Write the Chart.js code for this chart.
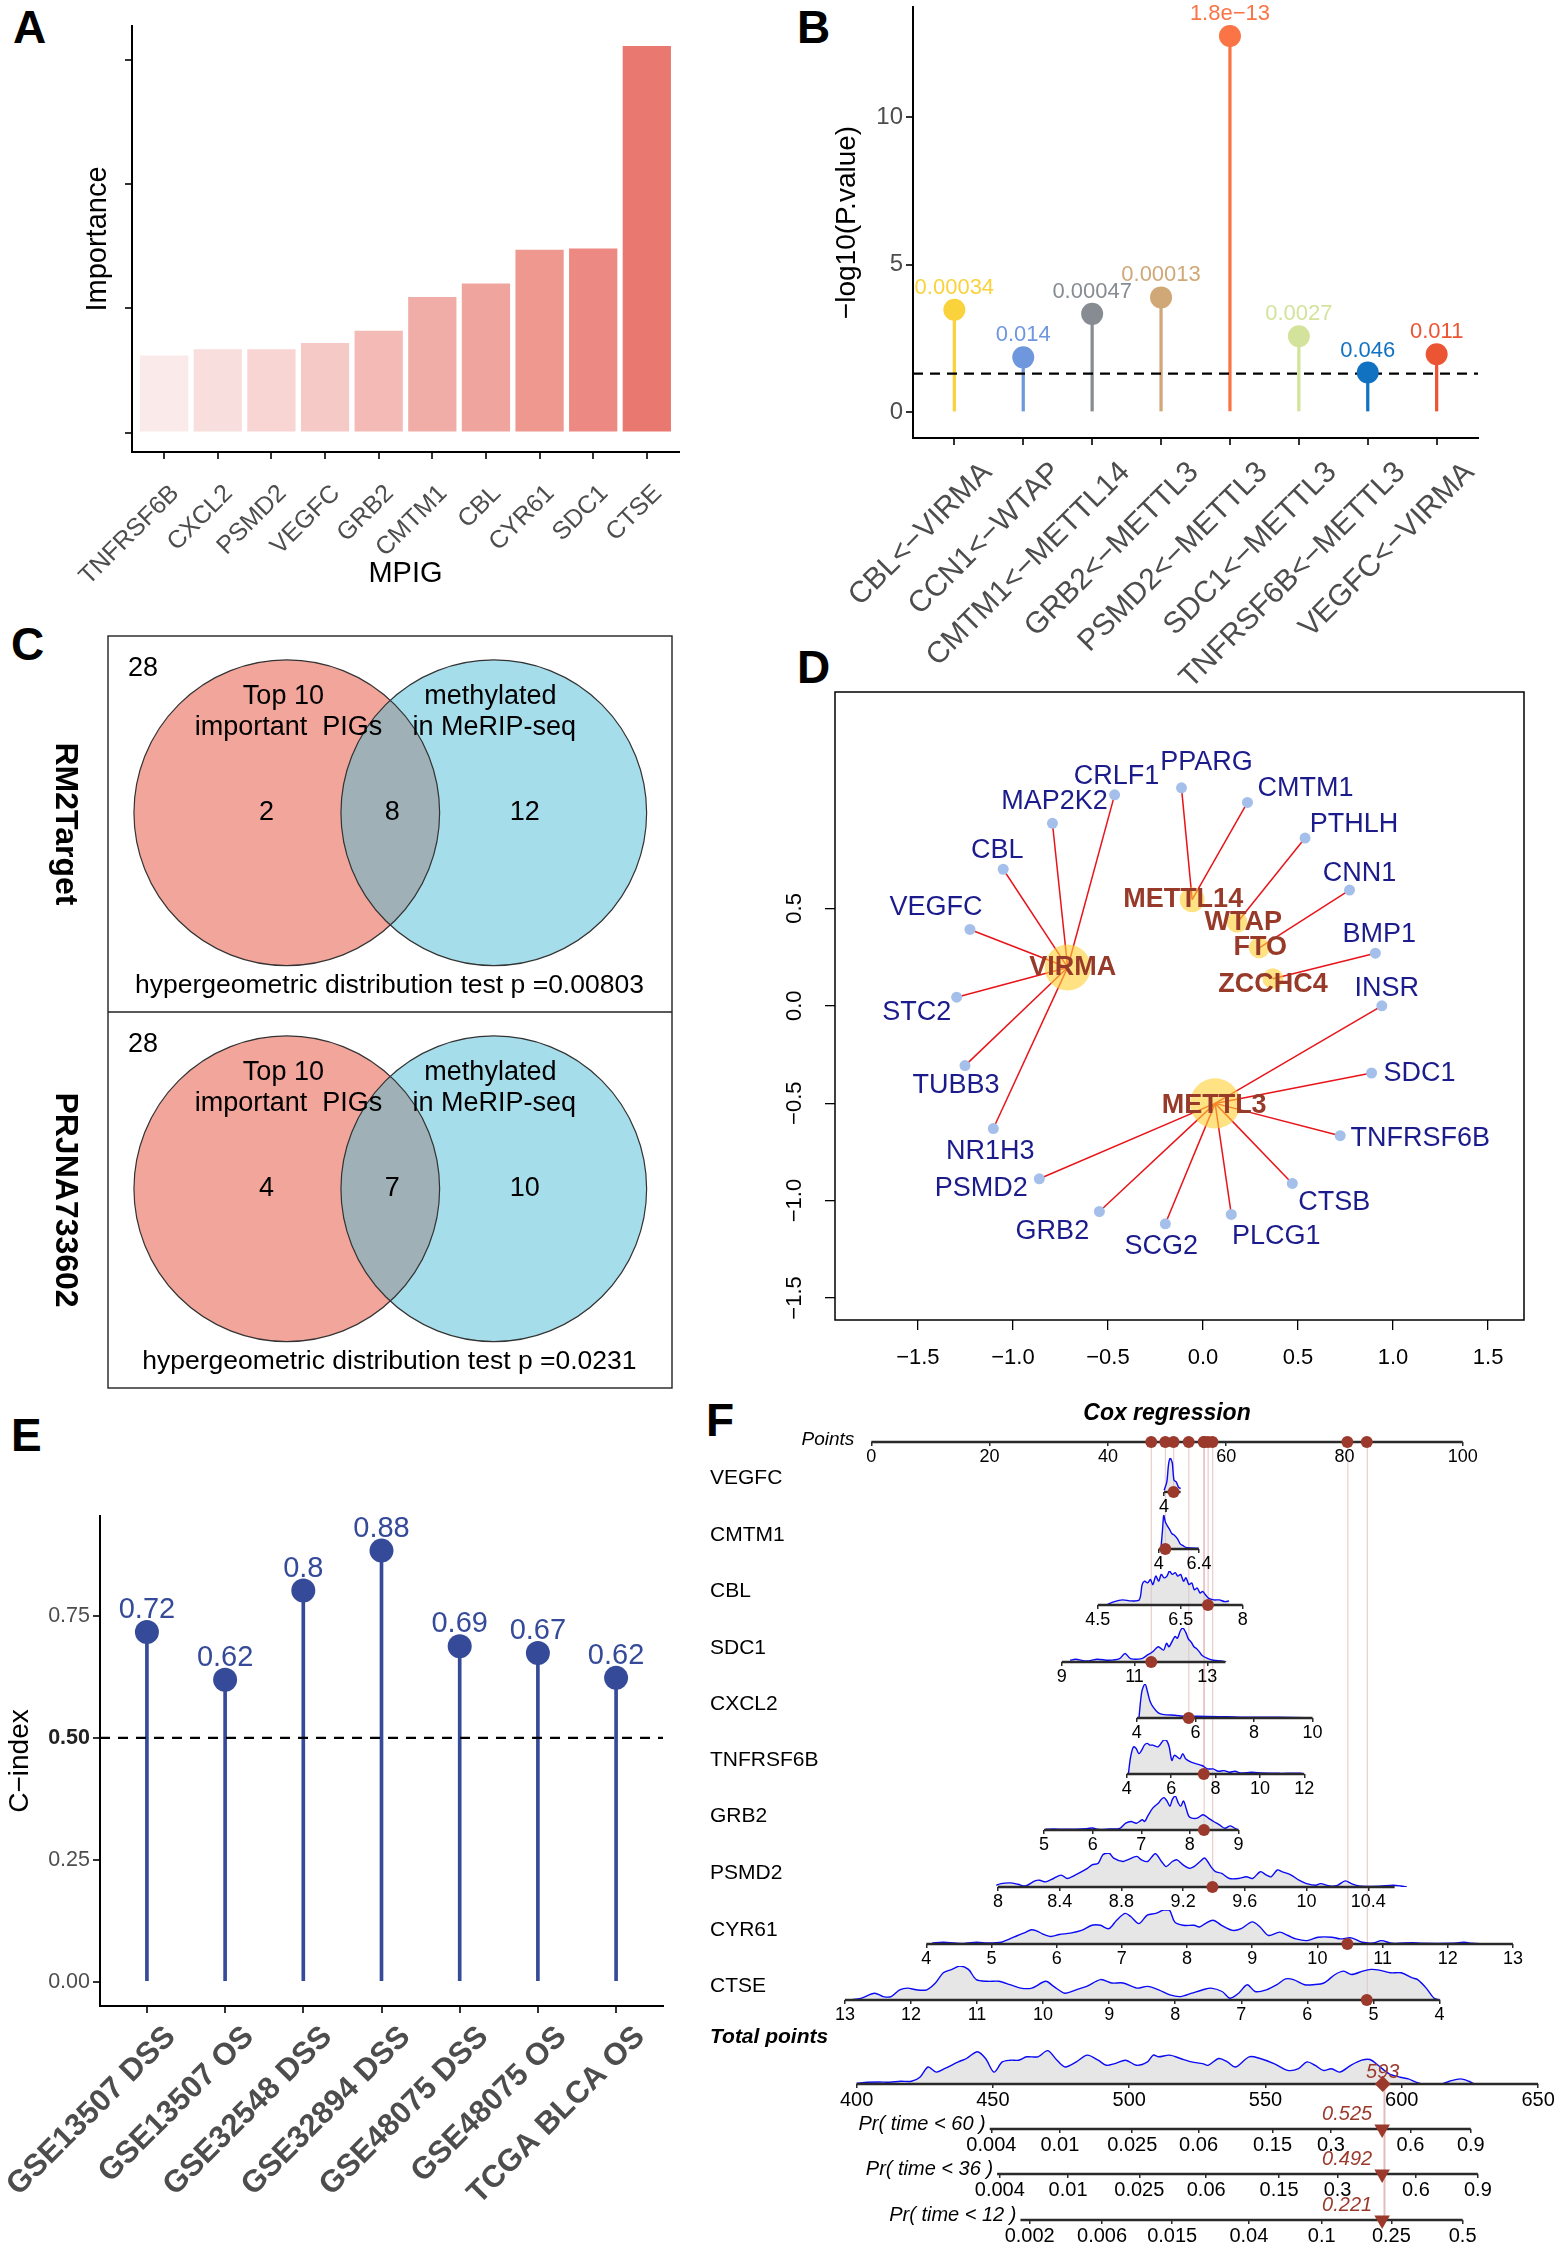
<!DOCTYPE html>
<html>
<head>
<meta charset="utf-8">
<title>MPIG figure</title>
<script src="https://cdn.jsdelivr.net/npm/chart.js@4.4.1/dist/chart.umd.min.js"></script>
<style>
  html, body { margin: 0; padding: 0; background: #fff; }
  body { position: relative; width: 1564px; height: 2250px; overflow: hidden; font-family: 'Liberation Sans', Arial, sans-serif; }
  canvas { position: absolute; }
  .tag { position: absolute; font-weight: bold; font-size: 46px; line-height: 1; }
  .ftitle { position: absolute; left: 1047px; top: 1401px; width: 240px; text-align: center; font: italic bold 23px 'Liberation Sans', Arial, sans-serif; line-height: 1; }
</style>
</head>
<body>
<div class="tag" style="left:13px;top:4px">A</div>
<div class="tag" style="left:797px;top:4px">B</div>
<div class="tag" style="left:11px;top:621px">C</div>
<div class="tag" style="left:797px;top:644px">D</div>
<div class="tag" style="left:11px;top:1412px">E</div>
<div class="tag" style="left:706px;top:1397px">F</div>
<script>
// ---------- data ----------
// A: importance of the MPIGs
const mpigGenes = ['TNFRSF6B', 'CXCL2', 'PSMD2', 'VEGFC', 'GRB2', 'CMTM1', 'CBL', 'CYR61', 'SDC1', 'CTSE'];
const mpigImportance = [0.62, 0.67, 0.67, 0.72, 0.82, 1.09, 1.20, 1.47, 1.48, 3.11];

// B: target <- regulator correlation p values
const mtPairs = ['CBL<\u2212VIRMA', 'CCN1<\u2212WTAP', 'CMTM1<\u2212METTL14', 'GRB2<\u2212METTL3',
  'PSMD2<\u2212METTL3', 'SDC1<\u2212METTL3', 'TNFRSF6B<\u2212METTL3', 'VEGFC<\u2212VIRMA'];
const mtPValues = [0.00034, 0.014, 0.00047, 0.00013, 1.8e-13, 0.0027, 0.046, 0.011];
const mtPLabels = ['0.00034', '0.014', '0.00047', '0.00013', '1.8e\u221213', '0.0027', '0.046', '0.011'];

// C: venn counts
const vennSources = ['RM2Target', 'PRJNA733602'];
const vennUniverse = [28, 28];
const vennOnlyTop10 = [2, 4];
const vennBoth = [8, 7];
const vennOnlyMethylated = [12, 10];
const vennP = ['0.00803', '0.0231'];

// D: regulator network layout
const hubNames = ['VIRMA', 'METTL3', 'METTL14', 'WTAP', 'FTO', 'ZCCHC4'];
const hubX = [-0.712, 0.064, -0.057, 0.180, 0.296, 0.368];
const hubY = [0.197, -0.501, 0.545, 0.428, 0.297, 0.139];
const geneNames = ['CRLF1', 'PPARG', 'CMTM1', 'MAP2K2', 'PTHLH', 'CBL', 'CNN1', 'VEGFC', 'BMP1', 'STC2',
  'INSR', 'TUBB3', 'SDC1', 'NR1H3', 'TNFRSF6B', 'PSMD2', 'CTSB', 'GRB2', 'SCG2', 'PLCG1'];
const geneX = [-0.465, -0.113, 0.234, -0.792, 0.537, -1.051, 0.771, -1.226, 0.907, -1.296,
  0.941, -1.252, 0.887, -1.103, 0.722, -0.861, 0.470, -0.545, -0.198, 0.149];
const geneY = [1.083, 1.119, 1.044, 0.937, 0.861, 0.701, 0.594, 0.392, 0.270, 0.044,
  0.000, -0.307, -0.345, -0.630, -0.667, -0.888, -0.912, -1.056, -1.119, -1.071];
const geneRegulator = ['VIRMA', 'METTL14', 'METTL14', 'VIRMA', 'WTAP', 'VIRMA', 'FTO', 'VIRMA', 'ZCCHC4', 'VIRMA',
  'METTL3', 'VIRMA', 'METTL3', 'VIRMA', 'METTL3', 'METTL3', 'METTL3', 'METTL3', 'METTL3', 'METTL3'];

// E: C-index per cohort
const cohorts = ['GSE13507 DSS', 'GSE13507 OS', 'GSE32548 DSS', 'GSE32894 DSS', 'GSE48075 DSS', 'GSE48075 OS', 'TCGA BLCA OS'];
const cIndex = [0.717, 0.619, 0.802, 0.884, 0.688, 0.674, 0.623];

// F: nomogram
const nomoVars = ['VEGFC', 'CMTM1', 'CBL', 'SDC1', 'CXCL2', 'TNFRSF6B', 'GRB2', 'PSMD2', 'CYR61', 'CTSE'];
const nomoRef = [4, 4, 4.5, 9, 4, 4, 5, 8, 4, 13];
const nomoRefPoints = [49.5, 48.6, 38.3, 32.2, 44.9, 43.2, 29.2, 21.4, 9.3, -4.47];
const nomoPointsPerUnit = [0.93, 2.83, 7.0, 6.15, 4.95, 3.75, 8.22, 26.1, 11.02, -11.17];
const nomoTicks = [[4], [4, 6.4], [4.5, 6.5, 8], [9, 11, 13], [4, 6, 8, 10], [4, 6, 8, 10, 12],
  [5, 6, 7, 8, 9], [8, 8.4, 8.8, 9.2, 9.6, 10, 10.4], [4, 5, 6, 7, 8, 9, 10, 11, 12, 13], [13, 12, 11, 10, 9, 8, 7, 6, 5, 4]];
const nomoRange = [[4, 7], [4, 6.4], [4.5, 8], [9, 13.5], [4, 10], [4, 12], [5, 9], [8, 10.57], [4, 13], [4, 13]];
const nomoPatient = [5.72, 4.39, 7.16, 11.46, 5.77, 7.47, 8.29, 9.39, 10.46, 5.1];
const pointsTicks = [0, 20, 40, 60, 80, 100];
const totalRef = 400, totalRefPoints = -2.7, totalPointsPerUnit = 0.46304;
const totalTicks = [400, 450, 500, 550, 600, 650];
const totalPatient = 593;
const prNames = ['Pr( time < 60 )', 'Pr( time < 36 )', 'Pr( time < 12 )'];
const prTickTotals = [[449.3, 474.5, 501.1, 525.5, 552.7, 574.2, 603.4, 625.6],
  [452.4, 477.5, 503.7, 528.3, 555.1, 576.6, 605.4, 628.2],
  [463.4, 490.0, 515.8, 544.0, 570.8, 596.4, 622.6]];
const prTickLabels = [['0.004', '0.01', '0.025', '0.06', '0.15', '0.3', '0.6', '0.9'],
  ['0.004', '0.01', '0.025', '0.06', '0.15', '0.3', '0.6', '0.9'],
  ['0.002', '0.006', '0.015', '0.04', '0.1', '0.25', '0.5']];
const prRange = [[448.7, 625.6], [451.4, 628.2], [460.0, 622.6]];
const prPatient = ['0.525', '0.492', '0.221'];

// densities above each nomogram axis (x in the variable's own units, y relative height)
const densVEGFC_x = [4.0, 4.5, 4.8, 5.1, 5.3, 5.5, 5.8, 6.2, 6.6, 7.0];
const densVEGFC_y = [0.05, 0.3, 0.8, 1.0, 0.95, 0.85, 0.35, 0.3, 0.15, 0.1];
const densCMTM1_x = [4.13, 4.23, 4.30, 4.39, 4.49, 4.62, 4.79, 4.95, 5.12, 5.28, 5.45, 5.61, 5.94, 6.37];
const densCMTM1_y = [0, 0.6, 1.0, 0.8, 0.7, 0.6, 0.45, 0.4, 0.3, 0.15, 0.1, 0.05, 0.03, 0.02];
const densCBL_x = [4.70, 4.90, 5.10, 5.30, 5.50, 5.57, 5.63, 5.70, 5.77, 5.83, 5.90, 5.97, 6.03, 6.10, 6.17, 6.23, 6.30,
  6.37, 6.43, 6.50, 6.57, 6.63, 6.70, 6.77, 6.83, 6.90, 6.97, 7.03, 7.10, 7.17, 7.30, 7.43, 7.57, 7.67];
const densCBL_y = [0, .10, .15, .12, .15, .60, .70, .65, .75, .60, .85, .70, .90, .80, .85, 1.0, .90,
  .95, .85, .90, .70, .80, .60, .65, .45, .50, .35, .40, .30, .20, .15, .15, .10, .12];
const densSDC1_x = [9.23, 9.38, 9.68, 9.98, 10.29, 10.59, 10.74, 10.89, 11.20, 11.35, 11.50, 11.65, 11.80, 11.88, 11.95,
  12.11, 12.18, 12.26, 12.33, 12.41, 12.48, 12.56, 12.64, 12.71, 12.79, 12.86, 13.02, 13.17, 13.39, 13.52];
const densSDC1_y = [.05, .08, .03, .08, .05, .10, .25, .10, .10, .20, .30, .45, .35, .55, .45,
  .75, .70, .92, 1.0, .87, .68, .58, .44, .39, .29, .19, .10, .05, .03, 0];
const densCXCL2_x = [4.07, 4.17, 4.28, 4.36, 4.45, 4.54, 4.73, 4.92, 5.29, 5.66, 6.04, 6.79, 7.35, 7.91, 8.84, 9.78, 9.98];
const densCXCL2_y = [0, .78, 1.0, .78, .49, .34, .15, .10, .08, .05, .05, .04, .03, .02, .02, .01, 0];
const densTNFRSF6B_x = [4.07, 4.17, 4.30, 4.42, 4.54, 4.67, 4.79, 4.92, 5.04, 5.16, 5.41, 5.66, 5.78, 5.91, 6.03, 6.15, 6.40,
  6.52, 6.65, 6.90, 7.14, 7.39, 7.64, 7.89, 8.13, 8.38, 8.63, 8.88, 9.12, 9.62, 10.11, 10.86, 11.85, 11.97];
const densTNFRSF6B_y = [0, .5, .8, .75, .6, .7, .85, .9, .85, .85, .8, 1.0, 1.0, .8, .4, .55, .45,
  .6, .45, .35, .3, .25, .15, .15, .08, .1, .05, .08, .03, .05, .03, .02, .02, 0];
const densGRB2_x = [5.03, 5.20, 5.43, 5.88, 6.00, 6.11, 6.34, 6.56, 6.68, 6.79, 6.90, 7.02, 7.07, 7.13, 7.24, 7.36, 7.41, 7.47, 7.53,
  7.59, 7.64, 7.70, 7.76, 7.81, 7.87, 7.93, 7.98, 8.04, 8.15, 8.27, 8.38, 8.49, 8.61, 8.72, 8.83, 8.95, 9.0];
const densGRB2_y = [.02, .03, .02, .04, .06, .02, .03, .05, .2, .25, .2, .3, .25, .4, .65, .8, .9, .95, .85,
  .7, .9, 1.0, .8, .7, .85, .6, .4, .35, .35, .45, .35, .25, .15, .05, .12, .03, 0];
const densPSMD2_x = [7.99, 8.02, 8.08, 8.13, 8.18, 8.24, 8.27, 8.31, 8.36, 8.41, 8.45, 8.50, 8.58, 8.61, 8.65, 8.68, 8.72, 8.75, 8.81, 8.84,
  8.90, 8.93, 8.97, 9.02, 9.06, 9.09, 9.13, 9.16, 9.20, 9.24, 9.27, 9.31, 9.34, 9.38, 9.41, 9.45, 9.50, 9.56, 9.61, 9.65,
  9.70, 9.74, 9.77, 9.81, 9.84, 9.90, 9.95, 10.00, 10.06, 10.09, 10.15, 10.20, 10.25, 10.29, 10.34, 10.47, 10.56, 10.61, 10.65];
const densPSMD2_y = [.05, .1, .12, .08, .03, .18, .2, .15, .25, .35, .25, .35, .55, .65, .7, .95, 1.0, .85, .75, .8,
  .9, .8, .75, .98, .75, .6, .75, .8, .65, .55, .6, .75, .85, .6, .45, .4, .25, .25, .3, .25,
  .45, .35, .3, .5, .45, .35, .2, .1, .05, .1, .03, .05, .18, .1, .03, .02, .05, .03, 0];
const densCYR61_x = [4.09, 4.26, 4.43, 4.60, 4.77, 4.94, 5.15, 5.28, 5.40, 5.53, 5.61, 5.70, 5.78, 5.91, 6.04, 6.21, 6.38, 6.54, 6.67, 6.80,
  6.92, 7.05, 7.14, 7.26, 7.39, 7.52, 7.64, 7.73, 7.81, 7.94, 8.11, 8.19, 8.28, 8.40, 8.53, 8.70, 8.83, 9.00, 9.12, 9.25,
  9.42, 9.55, 9.67, 9.84, 10.01, 10.22, 10.35, 10.52, 10.69, 10.86, 10.98, 11.15, 11.45, 11.62, 12.04, 12.25, 12.38, 12.55];
const densCYR61_y = [.03, .05, .03, .02, .05, .03, .05, .15, .25, .35, .42, .38, .3, .22, .28, .32, .4, .55, .55, .45,
  .7, .9, .8, .6, .85, .9, 1.0, 1.0, .65, .55, .55, .5, .6, .7, .55, .4, .45, .65, .5, .25,
  .35, .25, .15, .1, .2, .2, .15, .18, .05, .03, .1, .02, .04, .02, .02, .05, .02, 0];
const densCTSE_x = [12.92, 12.76, 12.55, 12.42, 12.30, 12.17, 12.05, 11.92, 11.76, 11.63, 11.51, 11.38, 11.26, 11.13, 11.01, 10.84,
  10.67, 10.50, 10.34, 10.17, 9.96, 9.84, 9.67, 9.50, 9.34, 9.13, 8.96, 8.79, 8.58, 8.42, 8.25, 8.08, 7.92, 7.75, 7.58, 7.46,
  7.29, 7.17, 7.04, 6.91, 6.79, 6.62, 6.46, 6.33, 6.21, 6.04, 5.91, 5.75, 5.58, 5.45, 5.33, 5.16, 5.04, 4.91, 4.74, 4.58,
  4.41, 4.33, 4.20, 4.08, 3.99];
const densCTSE_y = [0, .05, .2, .1, .1, .3, .35, .3, .3, .5, .8, .9, 1.0, .9, .6, .55,
  .55, .45, .35, .35, .55, .4, .2, .3, .4, .6, .5, .5, .35, .4, .3, .15, .1, .2, .3, .35,
  .25, .05, .2, .45, .25, .3, .45, .62, .6, .45, .45, .5, .75, .85, .75, .85, .9, .88, .8, .8,
  .65, .6, .35, .05, 0];
const densTotal_x = [400, 404.0, 408.1, 412.1, 416.1, 420.1, 423.2, 426.2, 429.2, 432.2, 437.3, 440.3, 444.3, 447.3, 450.4, 453.4,
  456.4, 459.4, 462.4, 466.5, 470.1, 473.5, 476.5, 480.6, 484.6, 488.6, 491.6, 494.7, 498.7, 502.7, 506.7, 508.8, 510.8,
  514.8, 518.8, 522.9, 526.9, 528.9, 532.9, 536.0, 539.0, 544.0, 548.0, 553.1, 558.1, 562.1, 565.2, 568.2, 571.2, 574.2,
  577.2, 581.3, 585.3, 588.3, 591.3, 595.4, 599.4, 602.4, 605.4, 608.5, 614.5, 617.5, 621.5, 624.6, 626.6];
const densTotal_y = [.02, .05, .06, .05, .08, .08, .2, .5, .35, .45, .65, .75, .95, .75, .35, .65,
  .7, .7, .8, .8, .98, .7, .5, .65, .85, .7, .55, .6, .7, .55, .65, .85, .8,
  .85, .75, .65, .6, .55, .75, .65, .5, .8, .75, .6, .4, .45, .65, .55, .4, .45,
  .35, .55, .7, .72, .55, .3, .2, .15, .05, 0, 0, .08, .15, .08, 0];
const nomoDensX = [densVEGFC_x, densCMTM1_x, densCBL_x, densSDC1_x, densCXCL2_x, densTNFRSF6B_x, densGRB2_x, densPSMD2_x, densCYR61_x, densCTSE_x];
const nomoDensY = [densVEGFC_y, densCMTM1_y, densCBL_y, densSDC1_y, densCXCL2_y, densTNFRSF6B_y, densGRB2_y, densPSMD2_y, densCYR61_y, densCTSE_y];

// ---------- shared setup ----------
const FONT = "'Liberation Sans', Arial, Helvetica, sans-serif";
Chart.defaults.font.family = FONT;
Chart.defaults.color = '#000';
Chart.defaults.animation = false;
Chart.defaults.responsive = false;
Chart.defaults.plugins.legend.display = false;
Chart.defaults.plugins.tooltip.enabled = false;

function place(id, left, top, width, height) {
  const c = document.createElement('canvas');
  c.id = id;
  c.width = width;
  c.height = height;
  c.style.left = left + 'px';
  c.style.top = top + 'px';
  c.style.width = width + 'px';
  c.style.height = height + 'px';
  document.body.appendChild(c);
  return c;
}
const fixTicks = vals => s => { s.ticks = vals.map(value => ({value})); };
const ggGrid = () => ({ drawOnChartArea: false, offset: false, tickLength: 7, color: '#333', lineWidth: 2 });
const ggBorder = () => ({ color: '#000', width: 2 });

// text over lollipop heads
const pointLabels = {
  id: 'pointLabels',
  afterDatasetsDraw(chart, args, o) {
    const meta = chart.getDatasetMeta(0);
    const ctx = chart.ctx;
    ctx.save();
    ctx.font = o.font;
    ctx.textAlign = 'center';
    ctx.textBaseline = 'middle';
    meta.data.forEach((el, i) => {
      ctx.fillStyle = Array.isArray(o.color) ? o.color[i] : o.color;
      ctx.fillText(o.labels[i], el.x, el.y - o.offset);
    });
    ctx.restore();
  }
};

// ---------- A ----------
const aColors = ['#FAEBEA', '#F8DFDD', '#F8D5D3', '#F5C9C6', '#F3BAB6', '#F0ACA6', '#EFA49E', '#EE9890', '#EC8982', '#E97871'];
new Chart(place('chartA', 0, 0, 700, 620), {
  type: 'bar',
  data: {
    datasets: [{
      data: mpigGenes.map((g, i) => ({x: i, y: mpigImportance[i]})),
      backgroundColor: aColors, borderWidth: 0, barPercentage: 0.9, categoryPercentage: 1
    }]
  },
  options: {
    layout: { padding: { top: 26, right: 21, left: 0, bottom: 0 } },
    scales: {
      x: {
        type: 'linear', min: -0.6, max: 9.6, offset: false,
        afterBuildTicks: fixTicks(mpigGenes.map((g, i) => i)),
        afterFit: s => { s.height = 168; },
        ticks: { callback: v => mpigGenes[v], minRotation: 45, maxRotation: 45, autoSkip: false,
          font: { size: 25 }, color: '#4D4D4D', padding: 20, labelOffset: 11 },
        grid: ggGrid(), border: ggBorder(),
        title: { display: true, text: 'MPIG', font: { size: 29 }, padding: { top: 0, bottom: 29 } }
      },
      y: {
        min: -0.156, max: 3.27,
        afterBuildTicks: fixTicks([0, 1, 2, 3]),
        afterFit: s => { s.width = 132; },
        ticks: { display: false },
        grid: ggGrid(), border: ggBorder(),
        title: { display: true, text: 'Importance', font: { size: 29 }, padding: { top: 81, bottom: 0 } }
      }
    }
  }
});

// ---------- B ----------
const bColors = ['#F9D23C', '#6F97DE', '#878C92', '#D0A878', '#FA7446', '#D4E39C', '#1272C2', '#EC5534'];
const mtScore = mtPValues.map(p => -Math.log10(p));
const mtPoints = mtPairs.map((n, i) => ({x: i, y: mtScore[i]}));
new Chart(place('chartB', 782, -20, 782, 710), {
  type: 'bar',
  data: {
    datasets: [
      { type: 'scatter', data: mtPoints, pointRadius: 11, backgroundColor: bColors, borderWidth: 0, order: 1 },
      { type: 'line', data: [{x: -0.6, y: -Math.log10(0.05)}, {x: 7.6, y: -Math.log10(0.05)}],
        borderColor: '#000', borderWidth: 2.4, borderDash: [10, 7], pointRadius: 0, order: 2 },
      { type: 'bar', data: mtPoints, backgroundColor: bColors, barThickness: 2.6, order: 3 }
    ]
  },
  options: {
    layout: { padding: { top: 27, right: 86, left: 0, bottom: 0 } },
    scales: {
      x: {
        type: 'linear', min: -0.6, max: 7.6, offset: false,
        afterBuildTicks: fixTicks(mtPairs.map((n, i) => i)),
        afterFit: s => { s.height = 252; },
        ticks: { callback: v => mtPairs[v], minRotation: 45, maxRotation: 45, autoSkip: false,
          font: { size: 30 }, color: '#4D4D4D', padding: 10, labelOffset: 33 },
        grid: ggGrid(), border: ggBorder()
      },
      y: {
        min: -0.88, max: 13.73,
        afterBuildTicks: fixTicks([0, 5, 10]),
        afterFit: s => { s.width = 131; },
        ticks: { font: { size: 24 }, color: '#4D4D4D', padding: 3 },
        grid: ggGrid(), border: ggBorder(),
        title: { display: true, text: '\u2212log10(P.value)', font: { size: 28 }, padding: { top: 48, bottom: 0 } }
      }
    },
    plugins: { pointLabels: { labels: mtPLabels, color: bColors, font: '22px ' + FONT, offset: 22 } }
  },
  plugins: [pointLabels]
});

// ---------- C ----------
const VENN_R = 0.271;           // circle radius in box-width units
const vennCx = [0.317, 0.684];  // left / right circle centres
const vennCy = 0.47;            // centre depth inside each sub box
const vennRadius = c => { const s = c.chart.scales.x; return s.getPixelForValue(VENN_R) - s.getPixelForValue(0); };
const vennCircle = side => vennSources.map((n, k) => ({x: vennCx[side], y: 2 - k - vennCy}));
const vennText = {
  id: 'vennText',
  afterDatasetsDraw(chart) {
    const {ctx, chartArea: a, scales: {x, y}} = chart;
    ctx.save();
    ctx.strokeStyle = '#222';
    ctx.lineWidth = 1.4;
    ctx.strokeRect(a.left, a.top, a.width, a.height);
    ctx.beginPath();
    ctx.moveTo(a.left, y.getPixelForValue(1));
    ctx.lineTo(a.right, y.getPixelForValue(1));
    ctx.stroke();
    ctx.fillStyle = '#000';
    ctx.textAlign = 'center';
    ctx.textBaseline = 'middle';
    vennSources.forEach((name, k) => {
      const top = 2 - k;
      const put = (t, fx, fy) => ctx.fillText(t, x.getPixelForValue(fx), y.getPixelForValue(top - fy));
      ctx.font = '27px ' + FONT;
      put(String(vennUniverse[k]), 0.062, 0.086);
      put('Top 10', 0.311, 0.162);
      put('important  PIGs', 0.32, 0.244);
      put('methylated', 0.678, 0.162);
      put('in MeRIP-seq', 0.685, 0.244);
      put(String(vennOnlyTop10[k]), 0.281, 0.469);
      put(String(vennBoth[k]), 0.504, 0.469);
      put(String(vennOnlyMethylated[k]), 0.739, 0.469);
      ctx.font = '26.5px ' + FONT;
      put('hypergeometric distribution test p =' + vennP[k], 0.499, 0.931);
      ctx.save();
      ctx.translate(65, y.getPixelForValue(top - 0.5));
      ctx.rotate(Math.PI / 2);
      ctx.font = 'bold 32px ' + FONT;
      ctx.fillText(name, 0, 0);
      ctx.restore();
    });
    ctx.restore();
  }
};
new Chart(place('chartC', 0, 620, 700, 780), {
  type: 'scatter',
  data: {
    datasets: [
      { data: vennCircle(0).concat(vennCircle(1)), pointRadius: vennRadius, backgroundColor: 'rgba(0,0,0,0)',
        borderColor: '#333', borderWidth: 1.2, order: 1 },
      { data: vennCircle(1), pointRadius: vennRadius, backgroundColor: 'rgba(77,187,213,0.5)', borderWidth: 0, order: 2 },
      { data: vennCircle(0), pointRadius: vennRadius, backgroundColor: 'rgba(230,75,53,0.5)', borderWidth: 0, order: 3 }
    ]
  },
  options: {
    layout: { padding: { left: 108, top: 16, right: 28, bottom: 12 } },
    scales: { x: { min: 0, max: 1, display: false }, y: { min: 0, max: 2, display: false } }
  },
  plugins: [vennText]
});

// ---------- D ----------
const geneLabelOffset = [[2, -18], [25, -25], [58, -14], [2, -22], [49, -14], [-6, -19], [10, -17], [-34, -22], [4, -19], [-40, 15],
  [5, -17], [-9, 20], [48, 1], [-3, 23], [80, 3], [-58, 10], [42, 19], [-47, 20], [-4, 23], [45, 22]];
const hubLabelOffset = [[5, 0], [-1, 2], [-9, 0], [6, 0], [1, 0], [0, 6]];
const hubDegree = hubNames.map(h => geneRegulator.filter(r => r === h).length);
const netText = {
  id: 'netText',
  afterDatasetsDraw(chart) {
    const {ctx, chartArea: a, scales: {x, y}} = chart;
    ctx.save();
    ctx.textAlign = 'center';
    ctx.textBaseline = 'middle';
    ctx.font = '27px ' + FONT;
    ctx.fillStyle = '#1B1B8C';
    geneNames.forEach((g, i) => {
      ctx.fillText(g, x.getPixelForValue(geneX[i]) + geneLabelOffset[i][0], y.getPixelForValue(geneY[i]) + geneLabelOffset[i][1]);
    });
    ctx.font = 'bold 27px ' + FONT;
    ctx.fillStyle = '#983A2A';
    hubNames.forEach((h, i) => {
      ctx.fillText(h, x.getPixelForValue(hubX[i]) + hubLabelOffset[i][0], y.getPixelForValue(hubY[i]) + hubLabelOffset[i][1]);
    });
    ctx.strokeStyle = '#000';
    ctx.lineWidth = 1.5;
    ctx.strokeRect(a.left, a.top, a.width, a.height);
    ctx.restore();
  }
};
const rTick = v => (v < 0 ? '\u2212' : '') + Math.abs(v).toFixed(1);
const edgeSets = geneNames.map((g, i) => {
  const h = hubNames.indexOf(geneRegulator[i]);
  return { type: 'line', data: [{x: hubX[h], y: hubY[h]}, {x: geneX[i], y: geneY[i]}],
    borderColor: '#E8141A', borderWidth: 1.5, pointRadius: 0, order: 5 };
});
new Chart(place('chartD', 782, 650, 782, 750), {
  type: 'scatter',
  data: {
    datasets: [
      { data: hubNames.map((h, i) => ({x: hubX[i], y: hubY[i]})), pointRadius: hubDegree.map(d => 8.3 + 2.1 * d),
        backgroundColor: 'rgba(255,208,55,0.62)', borderWidth: 0, order: 2 },
      { data: geneNames.map((g, i) => ({x: geneX[i], y: geneY[i]})), pointRadius: 5.5,
        backgroundColor: '#A5BFEB', borderWidth: 0, order: 3 }
    ].concat(edgeSets)
  },
  options: {
    layout: { padding: { top: 42, right: 40, left: 0, bottom: 0 } },
    scales: {
      x: {
        type: 'linear', min: -1.936, max: 1.689,
        afterBuildTicks: fixTicks([-1.5, -1, -0.5, 0, 0.5, 1, 1.5]),
        afterFit: s => { s.height = 80; },
        ticks: { callback: rTick, font: { size: 22 }, color: '#000', padding: 15, maxRotation: 0, autoSkip: false },
        grid: { drawOnChartArea: false, tickLength: 10, color: '#000', lineWidth: 1.3 }, border: { display: false }
      },
      y: {
        min: -1.613, max: 1.611,
        afterBuildTicks: fixTicks([-1.5, -1, -0.5, 0, 0.5]),
        afterFit: s => { s.width = 53; },
        ticks: { callback: rTick, font: { size: 22 }, color: '#000', padding: 8, minRotation: 90, maxRotation: 90,
          crossAlign: 'center', autoSkip: false },
        grid: { drawOnChartArea: false, tickLength: 10, color: '#000', lineWidth: 1.3 }, border: { display: false }
      }
    }
  },
  plugins: [netText]
});

// ---------- E ----------
const eColor = '#354A98';
const ePoints = cohorts.map((c, i) => ({x: i, y: cIndex[i]}));
new Chart(place('chartE', -40, 1400, 740, 850), {
  type: 'bar',
  data: {
    datasets: [
      { type: 'scatter', data: ePoints, pointRadius: 12, backgroundColor: eColor, borderWidth: 0, order: 1 },
      { type: 'line', data: [{x: -0.6, y: 0.5}, {x: 6.6, y: 0.5}], borderColor: '#000', borderWidth: 2.2,
        borderDash: [10, 8], pointRadius: 0, order: 2 },
      { type: 'bar', data: ePoints, backgroundColor: eColor, barThickness: 3, order: 3 }
    ]
  },
  options: {
    layout: { padding: { top: 116, right: 37, left: 0, bottom: 0 } },
    scales: {
      x: {
        type: 'linear', min: -0.6, max: 6.6, offset: false,
        afterBuildTicks: fixTicks(cohorts.map((c, i) => i)),
        afterFit: s => { s.height = 244; },
        ticks: { callback: v => cohorts[v], minRotation: 45, maxRotation: 45, autoSkip: false,
          font: { size: 31, weight: 'bold' }, color: '#4D4D4D', padding: 6, labelOffset: 24 },
        grid: ggGrid(), border: ggBorder()
      },
      y: {
        min: -0.05, max: 0.955,
        afterBuildTicks: fixTicks([0, 0.25, 0.5, 0.75]),
        afterFit: s => { s.width = 140; },
        ticks: { callback: v => v.toFixed(2),
          font: c => ({ size: 21.5, weight: c.tick && c.tick.value === 0.5 ? 'bold' : 'normal' }),
          color: c => (c.tick && c.tick.value === 0.5 ? '#222' : '#4D4D4D'), padding: 3 },
        grid: ggGrid(), border: ggBorder(),
        title: { display: true, text: 'C\u2212index', font: { size: 28 }, padding: { top: 43, bottom: 0 } }
      }
    },
    plugins: { pointLabels: { labels: cIndex.map(v => String(+v.toFixed(2))), color: eColor, font: '29px ' + FONT, offset: 22 } }
  },
  plugins: [pointLabels]
});

// ---------- F ----------
const P_MIN = -28.8, P_MAX = 116.95;          // points shown at the left / right edge of the strip
const F_TOP = 1390;
const ROW_POINTS = 1442;
const ROW_VARS = [1492, 1549, 1605, 1662, 1718, 1774, 1830, 1887, 1944, 2000];
const ROW_TOTAL = 2084;
const ROW_PR = [2129, 2174, 2220];
const DOT = '#9B3A2C';

const varPoints = nomoPatient.map((v, j) => nomoRefPoints[j] + nomoPointsPerUnit[j] * (v - nomoRef[j]));
const totalAsPoints = totalRefPoints + totalPointsPerUnit * (totalPatient - totalRef);

function axisWindow(ref, refPts, slope) {
  const a = ref + (P_MIN - refPts) / slope, b = ref + (P_MAX - refPts) / slope;
  return slope > 0 ? {min: a, max: b, reverse: false} : {min: b, max: a, reverse: true};
}

const rowText = {
  id: 'rowText',
  afterDatasetsDraw(chart, args, o) {
    const ctx = chart.ctx, base = chart.chartArea.bottom, sx = chart.scales.x;
    ctx.save();
    ctx.textBaseline = 'middle';
    if (o.label) {
      ctx.font = o.labelFont;
      ctx.fillStyle = '#000';
      ctx.textAlign = o.labelAt !== undefined ? 'right' : 'left';
      const lx = o.labelAt !== undefined ? sx.getPixelForValue(o.labelAt) - o.labelGap : 15;
      ctx.fillText(o.label, lx, base + o.labelDy);
    }
    if (o.markText) {
      ctx.font = 'italic 20px ' + FONT;
      ctx.fillStyle = DOT;
      ctx.textAlign = o.markAlign || 'center';
      ctx.fillText(o.markText, sx.getPixelForValue(o.markAt) + (o.markDx || 0), base + o.markDy);
    }
    ctx.restore();
  }
};

function nomoRow(o) {
  const win = axisWindow(o.ref, o.refPts, o.slope);
  const datasets = [];
  if (o.densX) {
    datasets.push({ type: 'line', data: o.densX.map((x, i) => ({x, y: o.densY[i]})), borderColor: '#0A0AF5',
      borderWidth: 1.4, backgroundColor: 'rgba(205,205,205,0.5)', fill: 'origin', pointRadius: 0, tension: 0.3, order: 3 });
  }
  datasets.push({ type: 'line', data: [{x: o.range[0], y: 0}, {x: o.range[1], y: 0}], borderColor: '#2A2A2A',
    borderWidth: 2.4, pointRadius: 0, clip: false, order: 2 });
  if (o.marks) {
    datasets.push({ type: 'scatter', data: o.marks.map(x => ({x, y: 0})), pointRadius: o.markRadius || 6,
      pointStyle: o.markStyle || 'circle', rotation: o.markRotation || 0, backgroundColor: DOT, borderWidth: 0,
      clip: false, order: 1 });
  }
  return new Chart(place(o.id, 695, o.axisY - 60, 874, 94), {
    type: 'scatter',
    data: { datasets },
    options: {
      layout: { padding: { top: 26, left: 5, right: 5, bottom: 0 } },
      scales: {
        x: {
          type: 'linear', min: win.min, max: win.max, reverse: win.reverse,
          afterBuildTicks: fixTicks(o.ticks),
          afterFit: s => { s.height = 34; },
          ticks: { callback: o.tickText || (v => String(v)), autoSkip: false, minRotation: 0, maxRotation: 0,
            font: { size: o.tickSize || 18 }, color: '#000', padding: 0 },
          grid: { drawOnChartArea: false, tickLength: 4, color: '#2A2A2A', lineWidth: 1.5 },
          border: { display: false }
        },
        y: { min: 0, max: 1, display: false }
      },
      plugins: { rowText: o.text || {} }
    },
    plugins: [rowText]
  });
}

// faint guides from the Points axis down to each variable, and from total points to the probabilities
const guideSets = varPoints.map((p, j) => ({
  type: 'line', data: [{x: p, y: ROW_POINTS - F_TOP}, {x: p, y: ROW_VARS[j] - F_TOP}],
  borderColor: 'rgba(205,130,130,0.4)', borderWidth: 1.2, pointRadius: 0
}));
guideSets.push({ type: 'line', data: [{x: totalAsPoints, y: ROW_TOTAL - F_TOP}, {x: totalAsPoints, y: ROW_PR[2] - F_TOP}],
  borderColor: 'rgba(205,130,130,0.55)', borderWidth: 2, pointRadius: 0 });
new Chart(place('chartFguides', 695, F_TOP, 874, 860), {
  type: 'scatter',
  data: { datasets: guideSets },
  options: {
    layout: { padding: { left: 5, right: 5, top: 0, bottom: 0 } },
    scales: { x: { min: P_MIN, max: P_MAX, display: false }, y: { min: 0, max: 860, reverse: true, display: false } }
  }
});

nomoRow({ id: 'rowPoints', axisY: ROW_POINTS, ref: 0, refPts: 0, slope: 1, ticks: pointsTicks, range: [0, 100],
  marks: varPoints, markRadius: 6,
  text: { label: 'Points', labelFont: 'italic 19px ' + FONT, labelAt: 0, labelGap: 17, labelDy: -2 } });

nomoVars.forEach((name, j) => {
  nomoRow({ id: 'row' + name, axisY: ROW_VARS[j], ref: nomoRef[j], refPts: nomoRefPoints[j], slope: nomoPointsPerUnit[j],
    ticks: nomoTicks[j], range: nomoRange[j], densX: nomoDensX[j], densY: nomoDensY[j], marks: [nomoPatient[j]],
    text: { label: name, labelFont: '21px ' + FONT, labelDy: -14 } });
});

nomoRow({ id: 'rowTotal', axisY: ROW_TOTAL, ref: totalRef, refPts: totalRefPoints, slope: totalPointsPerUnit,
  ticks: totalTicks, tickSize: 20, range: [400, 650], densX: densTotal_x, densY: densTotal_y,
  marks: [totalPatient], markStyle: 'rectRot', markRadius: 8,
  text: { label: 'Total points', labelFont: 'italic bold 21px ' + FONT, labelDy: -47,
    markText: String(totalPatient), markAt: totalPatient, markDy: -12 } });

prNames.forEach((name, k) => {
  nomoRow({ id: 'rowPr' + k, axisY: ROW_PR[k], ref: totalRef, refPts: totalRefPoints, slope: totalPointsPerUnit,
    ticks: prTickTotals[k], tickText: (v, i) => prTickLabels[k][i], tickSize: 20, range: prRange[k],
    marks: [totalPatient], markStyle: 'triangle', markRotation: 180, markRadius: 9,
    text: { label: name, labelFont: 'italic 20px ' + FONT, labelAt: prRange[k][0], labelGap: 4, labelDy: -5,
      markText: prPatient[k], markAt: totalPatient, markAlign: 'right', markDx: -10, markDy: -15 } });
});
</script>
<div class="ftitle">Cox regression</div>
</body>
</html>
